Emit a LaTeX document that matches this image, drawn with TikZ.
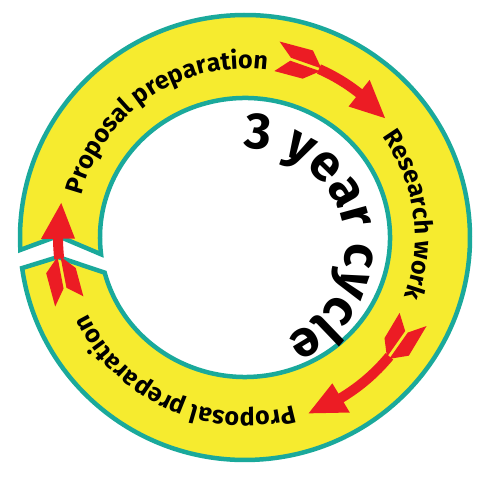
\documentclass[tikz,border=0pt]{standalone}
\usepackage{fontspec}
\setmainfont{Fira Sans}
\usetikzlibrary{decorations.text}
\definecolor{ringyellow}{HTML}{F6EB2F}
\definecolor{ringteal}{HTML}{1AA99B}
\definecolor{arrowred}{HTML}{EC1C24}
\newcommand\ringfont{\fontsize{25}{30}\selectfont\bfseries}
\newcommand\cyclefont{\fontsize{51}{60}\selectfont\bfseries}
\newcommand\pp[2]{({\ta-(#1)*\kk}:{\rr+(#2)})}
\newcommand\ringarrow[3]{%
  \pgfmathsetmacro\ta{#1}%
  \pgfmathsetmacro\rr{#2}%
  \pgfmathsetmacro\kk{57.29578/#2}%
  \pgfmathsetmacro\LL{#3}%
  \pgfmathsetmacro\hb{#3-36}%
  \fill[arrowred] \pp{0}{15} -- \pp{14}{1.5} -- \pp{46}{1.5} -- \pp{32}{15} -- cycle;
  \fill[arrowred] \pp{0}{-15} -- \pp{14}{-1.5} -- \pp{46}{-1.5} -- \pp{32}{-15} -- cycle;
  \fill[arrowred] \pp{44}{5} arc[start angle={\ta-44*\kk}, end angle={\ta-(\hb+1)*\kk}, radius={\rr+5}]
     -- \pp{\hb+1}{-5} arc[start angle={\ta-(\hb+1)*\kk}, end angle={\ta-44*\kk}, radius={\rr-5}] -- cycle;
  \fill[arrowred] \pp{\hb}{17} -- \pp{\LL}{0} -- \pp{\hb}{-17} -- cycle;
}
\tikzset{
  ring/.style={fill=ringyellow, draw=ringteal, line width=4.5pt, line join=miter},
}
\begin{document}
\begin{tikzpicture}[x=1pt,y=1pt]
\useasboundingbox (0,0) rectangle (487,484);
\coordinate (C) at (245,246.5);
\begin{scope}[shift={(C)}]
  % ring with chevron cut
  \path[ring] (183.2:225 and 222.5)
     arc[start angle=183.2, end angle=-172.1, x radius=225, y radius=222.5]
     -- (-187,-19.5)
     -- (194.6:145 and 139.5)
     arc[start angle=-165.4, end angle=186.9, x radius=145, y radius=139.5]
     -- (-187,1.5) -- cycle;
  % ring texts
  \path[decorate, decoration={text along path, text align=center,
      text={|\ringfont|Proposal preparation}}]
     (194:169) arc[start angle=194, end angle=54, radius=169];
  \path[decorate, decoration={text along path, text align=center,
      text={|\ringfont|Research work}}]
     (78:170) arc[start angle=78, end angle=-62, radius=170];
  \path[decorate, decoration={text along path, text align=center,
      text={|\ringfont|Proposal preparation}}]
     (-44:175) arc[start angle=-44, end angle=-184, radius=175];
  % arrows
  \ringarrow{80}{184}{127}
  \ringarrow{-26}{187}{144}
  \ringarrow{200}{187}{100}
  % inner text
  \begin{scope}[shift={(2.5,-9)}]
    \path[decorate, decoration={text along path, text align=center,
        text={|\cyclefont|3 year cycle}}]
       (112.5:98) arc[start angle=112.5, end angle=-87.5, radius=98];
  \end{scope}
\end{scope}
\end{tikzpicture}
\end{document}
